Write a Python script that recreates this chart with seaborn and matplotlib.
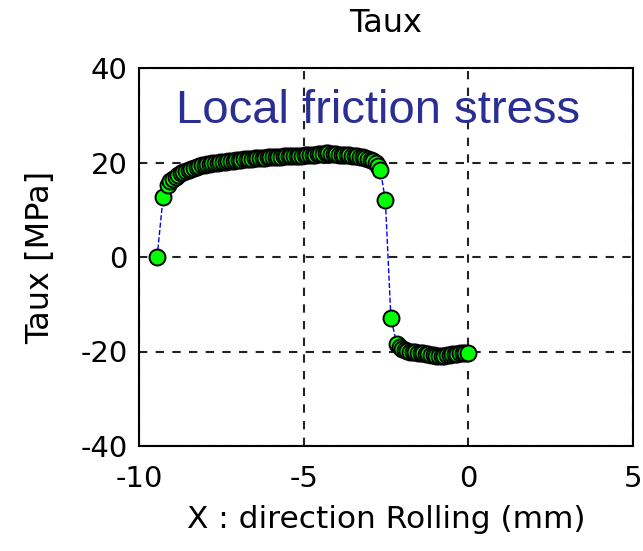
import matplotlib
matplotlib.use("Agg")
import matplotlib.pyplot as plt
import seaborn as sns
import pandas as pd

x_mm = [-9.45, -9.27,
        -9.13, -9.05, -8.97, -8.89, -8.81, -8.73, -8.65, -8.57, -8.49, -8.41,
        -8.33, -8.25, -8.17, -8.09, -8.01, -7.93, -7.85, -7.77, -7.69, -7.61,
        -7.53, -7.45, -7.37, -7.29, -7.21, -7.13, -7.05, -6.97, -6.89, -6.81,
        -6.73, -6.65, -6.57, -6.49, -6.41, -6.33, -6.25, -6.17, -6.09, -6.01,
        -5.93, -5.85, -5.77, -5.69, -5.61, -5.53, -5.45, -5.37, -5.29, -5.21,
        -5.13, -5.05, -4.97, -4.89, -4.81, -4.73, -4.65, -4.57, -4.49, -4.41,
        -4.33, -4.25, -4.17, -4.09, -4.01, -3.93, -3.85, -3.77, -3.69, -3.61,
        -3.53, -3.45, -3.37, -3.29, -3.21, -3.13, -3.05, -2.97, -2.89, -2.81,
        -2.73, -2.67,
        -2.52, -2.35,
        -2.17, -2.09, -2.01, -1.93, -1.85, -1.77, -1.69, -1.61, -1.53, -1.45,
        -1.37, -1.29, -1.21, -1.13, -1.05, -0.97, -0.89, -0.81, -0.73, -0.65,
        -0.57, -0.49, -0.41, -0.33, -0.25, -0.17, -0.09, 0.0]
taux_mpa = [0.0, 12.6,
            15.3, 16.0, 16.6, 17.0, 17.4, 17.7, 18.0, 18.3, 18.5, 18.7,
            18.9, 19.1, 19.2, 19.4, 19.5, 19.6, 19.7, 19.8, 19.9, 20.0,
            20.1, 20.2, 20.2, 20.3, 20.4, 20.4, 20.5, 20.6, 20.6, 20.7,
            20.7, 20.8, 20.8, 20.9, 20.9, 21.0, 21.0, 21.0, 21.1, 21.1,
            21.1, 21.2, 21.2, 21.2, 21.3, 21.3, 21.3, 21.3, 21.4, 21.4,
            21.4, 21.4, 21.5, 21.5, 21.5, 21.6, 21.6, 21.7, 21.8, 21.9,
            22.0, 22.0, 21.9, 21.8, 21.7, 21.6, 21.6, 21.5, 21.5, 21.5,
            21.4, 21.4, 21.3, 21.2, 21.1, 21.0, 20.8, 20.6, 20.3, 19.9,
            19.3, 18.4,
            12.0, -13.0,
            -18.4, -19.0, -19.4, -19.7, -19.9, -20.0, -20.1, -20.2, -20.3, -20.3,
            -20.4, -20.5, -20.6, -20.7, -20.8, -20.9, -21.0, -21.0, -20.9, -20.8,
            -20.7, -20.6, -20.5, -20.5, -20.4, -20.4, -20.4, -20.4]

df = pd.DataFrame({"x": x_mm, "taux": taux_mpa})

sns.set_style("white")
plt.rcParams["font.family"] = ["DejaVu Sans"]
plt.rcParams["text.color"] = "black"
plt.rcParams["axes.labelcolor"] = "black"

fig = plt.figure(figsize=(6.43, 5.51), dpi=100)
ax = fig.add_axes([139 / 643, 1 - 446 / 551, 494 / 643, 378 / 551])

sns.lineplot(data=df, x="x", y="taux", ax=ax, sort=False, color="blue",
             linestyle="--", linewidth=1.0, marker="o", markersize=11.5,
             markerfacecolor="#00ff00", markeredgecolor="black",
             markeredgewidth=1.4)

ax.set_xlim(-10, 5)
ax.set_ylim(-40, 40)
ax.set_xticks([-10, -5, 0, 5])
ax.set_yticks([-40, -20, 0, 20, 40])
ax.set_xticklabels(["-10", "-5", "0", "5"])
ax.set_yticklabels(["-40", "-20", "0", "20", "40"])
ax.grid(True, color="#222222", linestyle=(0, (4, 4)), linewidth=1.5)
ax.tick_params(direction="in", length=5, labelsize=21, colors="black")
ax.tick_params(axis="x", pad=14)
ax.tick_params(axis="y", pad=8)
for s in ax.spines.values():
    s.set_color("black")
    s.set_linewidth(1.5)

ax.set_xlabel("X : direction Rolling (mm)", fontsize=22.5, labelpad=8, color="black")
ax.set_ylabel("Taux [MPa]", fontsize=23, labelpad=18, color="black")
ax.set_title("Taux", fontsize=23, pad=26, color="black")
ax.text(-2.75, 30.8, "Local friction stress", fontsize=34, color="#2b2f94",
        ha="center", va="center", family="Liberation Sans")

fig.savefig("out.png", dpi=100)
